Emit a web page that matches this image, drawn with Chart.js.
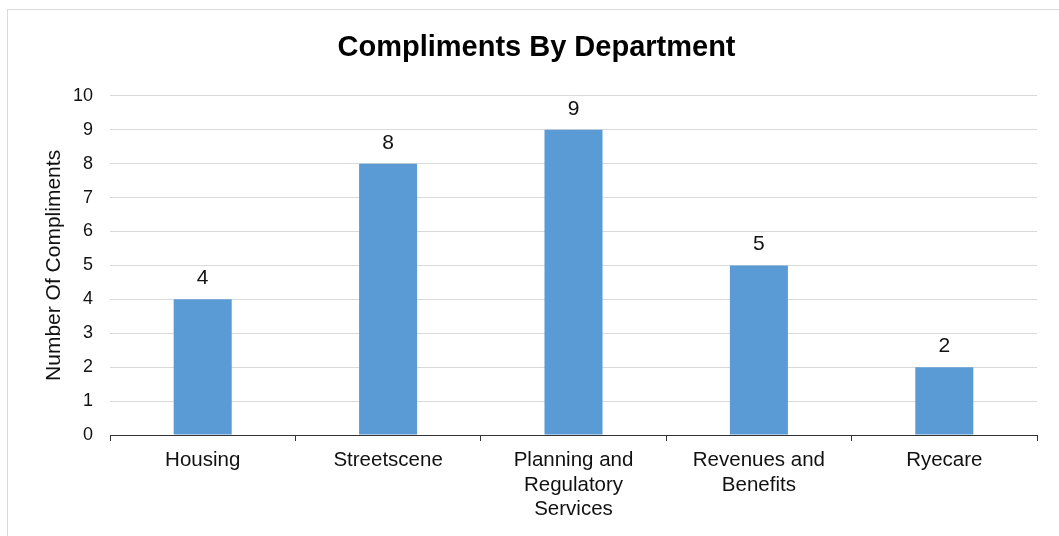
<!DOCTYPE html>
<html>
<head>
<meta charset="utf-8">
<script src="https://cdn.jsdelivr.net/npm/chart.js@4.4.0/dist/chart.umd.min.js"></script>
<style>
  html, body { margin: 0; padding: 0; background: #fff; overflow: hidden; }
  #wrap { position: relative; width: 1059px; height: 536px; }
</style>
</head>
<body>
<div id="wrap"><canvas id="grafico" width="1059" height="536"></canvas></div>
<script>
// departamentos e numero de elogios
var departamentos = ['Housing', 'Streetscene', ['Planning and', 'Regulatory', 'Services'], ['Revenues and', 'Benefits'], 'Ryecare'];
var elogios = [4, 8, 9, 5, 2];
var ticksY = [0, 1, 2, 3, 4, 5, 6, 7, 8, 9, 10];

var fonte = "'Liberation Sans', Arial, sans-serif";

// moldura cinza em volta do grafico inteiro
var moldura = {
    id: 'moldura',
    beforeDraw: function (chart) {
        var ctx = chart.ctx;
        ctx.save();
        ctx.fillStyle = '#fff';
        ctx.fillRect(0, 0, chart.width, chart.height);
        ctx.strokeStyle = '#d9d9d9';
        ctx.lineWidth = 1;
        ctx.strokeRect(7.5, 9.5, 1200, 700);
        ctx.restore();
    }
};

// numero em cima de cada barra
var rotulos = {
    id: 'rotulos',
    afterDatasetsDraw: function (chart) {
        var ctx = chart.ctx;
        var meta = chart.getDatasetMeta(0);
        ctx.save();
        ctx.font = '21px ' + fonte;
        ctx.fillStyle = '#111';
        ctx.textAlign = 'center';
        ctx.textBaseline = 'alphabetic';
        for (var i = 0; i < meta.data.length; i++) {
            var barra = meta.data[i];
            ctx.fillText(String(chart.data.datasets[0].data[i]), barra.x, barra.y - 15);
        }
        ctx.restore();
    }
};

var config = {
    type: 'bar',
    data: {
        labels: departamentos,
        datasets: [{
            label: 'Number Of Compliments',
            data: elogios,
            backgroundColor: '#5b9bd5',
            borderWidth: 0,
            categoryPercentage: 1,
            barPercentage: 0.313
        }]
    },
    options: {
        responsive: false,
        animation: false,
        devicePixelRatio: 1,
        layout: { padding: { top: 0, left: 36, right: 22, bottom: 0 } },
        plugins: {
            legend: { display: false },
            tooltip: { enabled: false },
            title: {
                display: true,
                text: 'Compliments By Department',
                color: '#000',
                font: { family: fonte, size: 29, weight: 'bold', lineHeight: 1.2 },
                padding: { top: 31, bottom: 30 }
            }
        },
        scales: {
            x: {
                offset: true,
                grid: {
                    offset: true,
                    drawOnChartArea: false,
                    drawTicks: true,
                    tickLength: 6,
                    color: '#333'
                },
                border: { display: true, color: '#333', width: 1 },
                ticks: {
                    color: '#111',
                    padding: 7,
                    maxRotation: 0,
                    autoSkip: false,
                    font: { family: fonte, size: 20.5, lineHeight: 1.2 }
                },
                afterFit: function (s) { s.height = 101; }
            },
            y: {
                min: 0,
                max: 10,
                afterBuildTicks: function (s) {
                    s.ticks = ticksY.map(function (v) { return { value: v }; });
                },
                grid: { color: '#d9d9d9', drawTicks: false },
                border: { display: false },
                ticks: {
                    color: '#111',
                    padding: 17,
                    font: { family: fonte, size: 18 }
                },
                title: {
                    display: true,
                    text: 'Number Of Compliments',
                    color: '#111',
                    font: { family: fonte, size: 21, lineHeight: 1.2 },
                    padding: { top: 6, bottom: 0 }
                },
                afterFit: function (s) { s.width = 74; }
            }
        }
    },
    plugins: [moldura, rotulos]
};

new Chart(document.getElementById('grafico'), config);
</script>
</body>
</html>
